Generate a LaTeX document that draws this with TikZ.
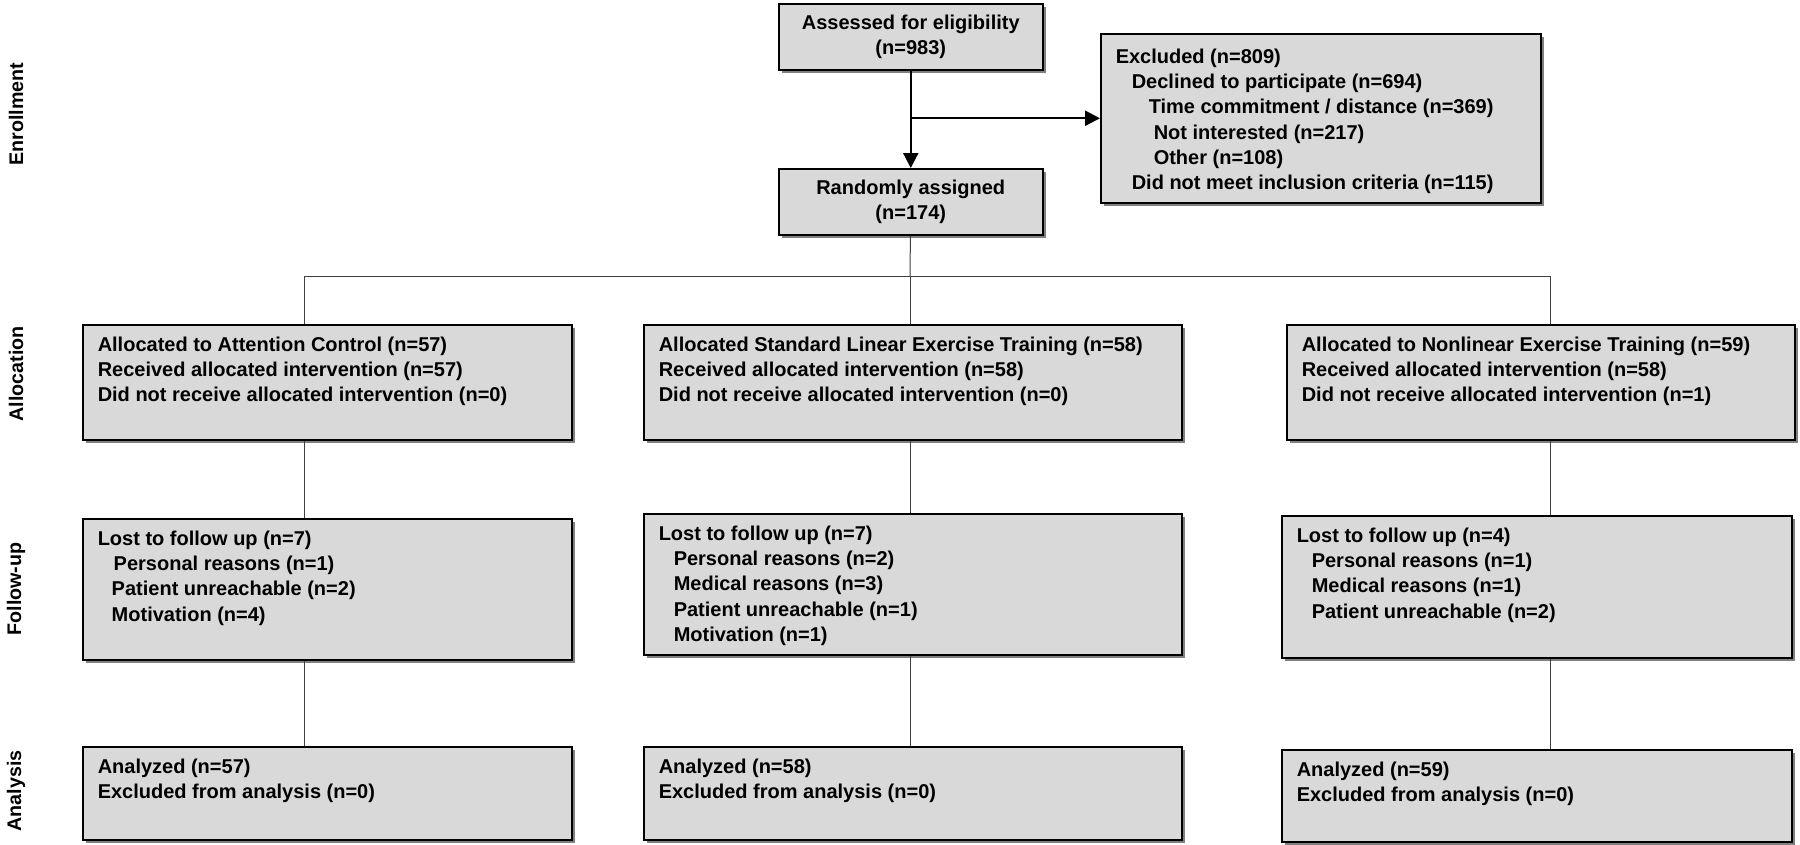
\documentclass[tikz,border=0pt]{standalone}
\usepackage{fontspec}
\setmainfont{Liberation Sans}
\usepackage{tikz}
\usetikzlibrary{positioning}
\usetikzlibrary{arrows.meta}
\usetikzlibrary{shadows}
\definecolor{boxgray}{RGB}{217,217,217}
\newcommand{\boxfont}{\fontsize{5.69}{7.2}\selectfont\bfseries}
\newcommand{\sidefont}{\fontsize{5.6}{6.5}\selectfont\bfseries}
\tikzset{
    mybox/.style = {draw=black, line width=0.15mm, fill=boxgray, anchor=north west, inner xsep=1.5mm, inner ysep=1.2mm, align=left, font=\boxfont,
        drop shadow={shadow xshift=0.3mm, shadow yshift=-0.3mm, fill=black!50, opacity=1}},
    mytop/.style = {mybox, align=center, inner sep=0pt, minimum width=26.4mm, minimum height=6.6mm},
    sidelabel/.style = {rotate=90, font=\sidefont, inner sep=0pt},
    edgen/.style = {-, line width=0.1mm, black!75},
    edgea/.style = {-{Triangle[length=1.5mm,width=1.5mm]}, line width=0.22mm, black}
}

\begin{document}
\begin{tikzpicture}[x=0.1mm, y=-0.1mm]
\useasboundingbox (0,0) rectangle (1800,844);

% stage labels
\node[sidelabel] (lenrol)  at (16,114) {Enrollment};
\node[sidelabel] (lalloc)  at (16,374) {Allocation};
\node[sidelabel] (lfollow) at (16,589) {Follow-up};
\node[sidelabel] (lanal)   at (16,791) {Analysis};

% enrollment
\node[mytop] (assess) at (778,3) {Assessed for eligibility\\(n=983)};
\node[mytop] (rand) at (778,168) {Randomly assigned\\(n=174)};
\node[mybox, inner ysep=1.5mm] (excl) at (1100,33) {\parbox[t][13.9mm][t]{41mm}{\raggedright
  Excluded (n=809)\\
  \hspace*{1.6mm}Declined to participate (n=694)\\
  \hspace*{3.3mm}Time commitment / distance (n=369)\\
  \hspace*{3.8mm}Not interested (n=217)\\
  \hspace*{3.8mm}Other (n=108)\\
  \hspace*{1.6mm}Did not meet inclusion criteria (n=115)}};

% allocation
\node[mybox] (alloc1) at (82,324) {\parbox[t][9.1mm][t]{45.9mm}{\raggedright
  Allocated to Attention Control (n=57)\\
  Received allocated intervention (n=57)\\
  Did not receive allocated intervention (n=0)}};
\node[mybox] (alloc2) at (643,324) {\parbox[t][9.1mm][t]{50.8mm}{\raggedright
  Allocated Standard Linear Exercise Training (n=58)\\
  Received allocated intervention (n=58)\\
  Did not receive allocated intervention (n=0)}};
\node[mybox] (alloc3) at (1286,324) {\parbox[t][9.1mm][t]{47.8mm}{\raggedright
  Allocated to Nonlinear Exercise Training (n=59)\\
  Received allocated intervention (n=58)\\
  Did not receive allocated intervention (n=1)}};

% follow-up
\node[mybox] (follow1) at (82,518) {\parbox[t][11.7mm][t]{45.9mm}{\raggedright
  Lost to follow up (n=7)\\
  \hspace*{1.6mm}Personal reasons (n=1)\\
  \hspace*{1.4mm}Patient unreachable (n=2)\\
  \hspace*{1.4mm}Motivation (n=4)}};
\node[mybox] (follow2) at (643,513) {\parbox[t][11.7mm][t]{50.8mm}{\raggedright
  Lost to follow up (n=7)\\
  \hspace*{1.5mm}Personal reasons (n=2)\\
  \hspace*{1.5mm}Medical reasons (n=3)\\
  \hspace*{1.5mm}Patient unreachable (n=1)\\
  \hspace*{1.5mm}Motivation (n=1)}};
\node[mybox] (follow3) at (1281,515) {\parbox[t][11.8mm][t]{48mm}{\raggedright
  Lost to follow up (n=4)\\
  \hspace*{1.5mm}Personal reasons (n=1)\\
  \hspace*{1.5mm}Medical reasons (n=1)\\
  \hspace*{1.5mm}Patient unreachable (n=2)}};

% analysis
\node[mybox] (anal1) at (82,746) {\parbox[t][6.9mm][t]{45.9mm}{\raggedright
  Analyzed (n=57)\\
  Excluded from analysis (n=0)}};
\node[mybox] (anal2) at (643,746) {\parbox[t][6.9mm][t]{50.8mm}{\raggedright
  Analyzed (n=58)\\
  Excluded from analysis (n=0)}};
\node[mybox] (anal3) at (1281,749) {\parbox[t][6.8mm][t]{48mm}{\raggedright
  Analyzed (n=59)\\
  Excluded from analysis (n=0)}};

% connectors
\coordinate (split) at (assess.south |- excl.west);
\coordinate (c1) at (304,276);
\coordinate (c2) at (910,276);
\coordinate (c3) at (1550,276);
\draw[edgea] (assess) -- (rand);
\draw[edgea] (split) -- (excl.west);
\draw[edgen] (rand) -- (c2);
\draw[edgen] (c1) -- (c3);
\draw[edgen] (c1) -- (c1 |- alloc1.north);
\draw[edgen] (c2) -- (c2 |- alloc2.north);
\draw[edgen] (c3) -- (c3 |- alloc3.north);
\draw[edgen] (alloc1.south -| c1) -- (follow1.north -| c1);
\draw[edgen] (alloc2.south -| c2) -- (follow2.north -| c2);
\draw[edgen] (alloc3.south -| c3) -- (follow3.north -| c3);
\draw[edgen] (follow1.south -| c1) -- (anal1.north -| c1);
\draw[edgen] (follow2.south -| c2) -- (anal2.north -| c2);
\draw[edgen] (follow3.south -| c3) -- (anal3.north -| c3);
\end{tikzpicture}
\end{document}
